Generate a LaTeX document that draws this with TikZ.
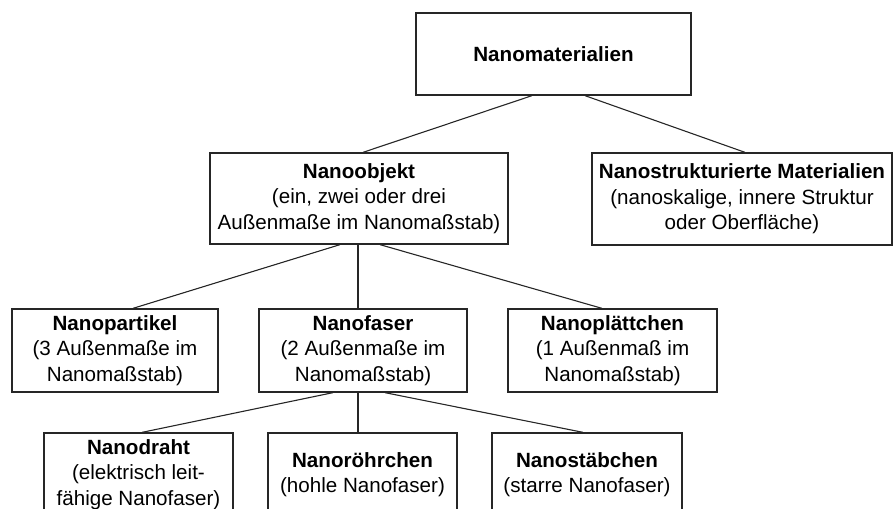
\documentclass[tikz,border=0pt]{standalone}
\usepackage{fontspec}
\setmainfont{Liberation Sans}
\usetikzlibrary{calc}

\begin{document}
\begin{tikzpicture}[x=1pt, y=-1pt,
    box/.style={draw=black!85, line width=1.3pt, fill=white, align=center, inner sep=0pt,
                font=\fontsize{20.6}{25.5}\selectfont},
    link/.style={draw=black!85, line width=1.1pt}]
        \useasboundingbox (0,0) rectangle (893,508);
        \clip (0,0) rectangle (893,508);
        % levels of the tree
        \node[box, minimum width=275pt, minimum height=82pt] (nm) at (553.5,54) {\textbf{Nanomaterialien}};
        \node[box, minimum width=298pt, minimum height=91pt] (obj) at (359,198.5) {\textbf{Nanoobjekt}\\(ein, zwei oder drei\\Außenmaße im Nanomaßstab)};
        \node[box, minimum width=300pt, minimum height=92pt] (struk) at (742,199) {\textbf{Nanostrukturierte Materialien}\\(nanoskalige, innere Struktur\\oder Oberfläche)};
        \node[box, minimum width=206pt, minimum height=83pt] (part) at (115,350.5) {\textbf{Nanopartikel}\\(3 Außenmaße im\\Nanomaßstab)};
        \node[box, minimum width=208pt, minimum height=83pt] (faser) at (363,350.5) {\textbf{Nanofaser}\\(2 Außenmaße im\\Nanomaßstab)};
        \node[box, minimum width=209pt, minimum height=83pt] (plaett) at (612.5,350.5) {\textbf{Nanoplättchen}\\(1 Außenmaß im\\Nanomaßstab)};
        \node[box, minimum width=189pt, minimum height=83pt] (draht) at (138.5,474.5) {\textbf{Nanodraht}\\(elektrisch leit-\\fähige Nanofaser)};
        \node[box, minimum width=189pt, minimum height=83pt] (roehr) at (362.5,474.5) {\textbf{Nanoröhrchen}\\(hohle Nanofaser)};
        \node[box, minimum width=190pt, minimum height=83pt] (staeb) at (587,474.5) {\textbf{Nanostäbchen}\\(starre Nanofaser)};
        % connectors
        \draw[link] ([xshift=-21.5pt]nm.south) -- ([xshift=4pt]obj.north);
        \draw[link] ([xshift=31.5pt]nm.south) -- ([xshift=3pt]struk.north);
        \draw[link] ([xshift=-19pt]obj.south) -- ([xshift=18pt]part.north);
        \draw[link] ([xshift=-1pt]obj.south) -- ([xshift=-1pt]obj.south |- faser.north);
        \draw[link] ([xshift=21pt]obj.south) -- ([xshift=-10.5pt]plaett.north);
        \draw[link] ([xshift=-30pt]faser.south) -- ([xshift=3.5pt]draht.north);
        \draw[link] ([xshift=-5pt]faser.south) -- ([xshift=-5pt]faser.south |- roehr.north);
        \draw[link] ([xshift=22pt]faser.south) -- ([xshift=-4pt]staeb.north);
    \end{tikzpicture}
\end{document}
